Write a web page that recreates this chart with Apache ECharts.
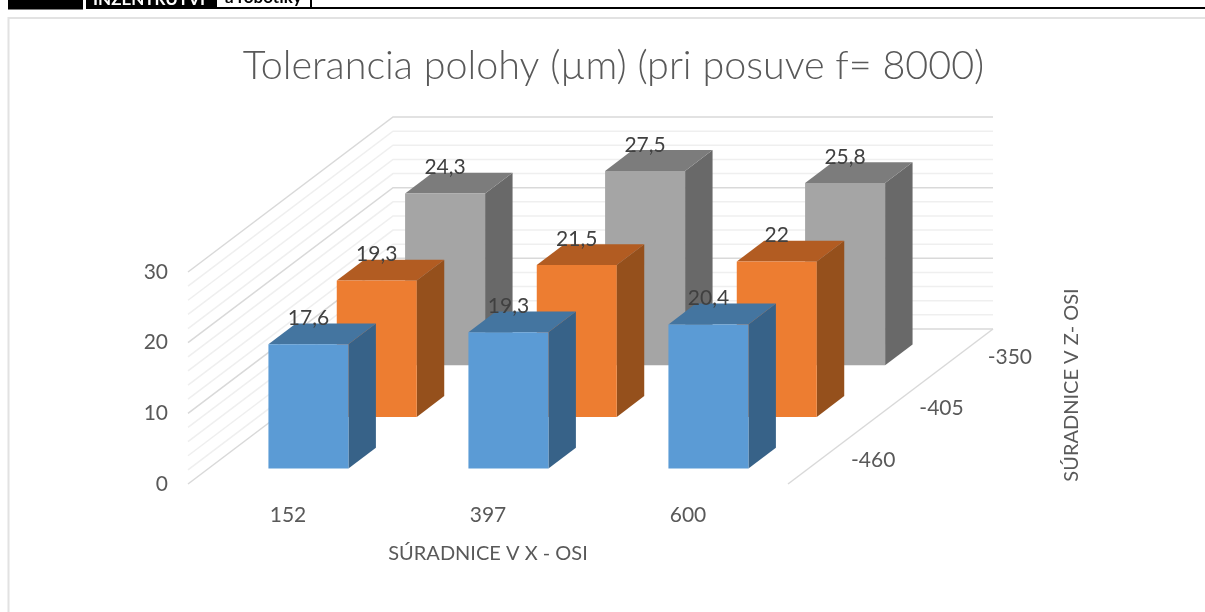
<!DOCTYPE html>
<html><head><meta charset="utf-8">
<style>html,body{margin:0;padding:0;background:#fff}#c{width:1205px;height:612px}</style>
<script src="https://cdn.jsdelivr.net/npm/echarts@6/dist/echarts.min.js"></script>
</head><body><div id="c"></div>
<script>
const titleText = 'Tolerancia polohy (µm) (pri posuve f= 8000)';
const xCategories = ['152', '397', '600'];
const zCategories = ['-460', '-405', '-350'];
const values460 = [17.6, 19.3, 20.4];
const values405 = [19.3, 21.5, 22];
const values350 = [24.3, 27.5, 25.8];
const labels460 = ['17,6', '19,3', '20,4'];
const labels405 = ['19,3', '21,5', '22'];
const labels350 = ['24,3', '27,5', '25,8'];
const gridValues = [0,2,4,6,8,10,12,14,16,18,20,22,24,26,28,30];
const xAxisTitle = 'SÚRADNICE V X - OSI';
const zAxisTitle = 'SÚRADNICE V Z- OSI';

const FONT = 'Lato, Carlito, "Open Sans", sans-serif';
const DEPTH_X = 205, DEPTH_Y = -155;     // floor depth in screen pixels
const ROWS = zCategories.length;
const BAR_W = 0.4;                       // share of a category slot
const BAR_D = 0.134;                     // share of the floor depth

function floorPoint(px, py, depthFrac) { return [px + DEPTH_X * depthFrac, py + DEPTH_Y * depthFrac]; }
function frontOf(row) { return (row + 0.5) / ROWS - BAR_D / 2; }

function barSeries(name, values, row, palette) {
  return {
    type: 'custom', name, coordinateSystem: 'cartesian2d', z: 3 + (ROWS - row),
    clip: false, silent: true,
    data: values.map((v, i) => [i, v]),
    encode: { x: 0, y: 1 },
    renderItem(params, api) {
      const base = api.coord([api.value(0), 0]);
      const top = api.coord([api.value(0), api.value(1)]);
      const w = api.size([1, 0])[0] * BAR_W;
      const [bx, by] = floorPoint(base[0], base[1], frontOf(row));
      const ty = by + (top[1] - base[1]);
      const x0 = bx - w / 2, x1 = bx + w / 2;
      const dx = DEPTH_X * BAR_D, dy = DEPTH_Y * BAR_D;
      return { type: 'group', children: [
        { type: 'polygon', shape: { points: [[x1, by], [x1 + dx, by + dy], [x1 + dx, ty + dy], [x1, ty]] }, style: { fill: palette[1] } },
        { type: 'polygon', shape: { points: [[x0, ty], [x1, ty], [x1 + dx, ty + dy], [x0 + dx, ty + dy]] }, style: { fill: palette[2] } },
        { type: 'polygon', shape: { points: [[x0, by], [x1, by], [x1, ty], [x0, ty]] }, style: { fill: palette[0] } }
      ]};
    }
  };
}

function labelSeries(values, texts, row) {
  return {
    type: 'custom', coordinateSystem: 'cartesian2d', z: 20, clip: false, silent: true,
    data: values.map((v, i) => [i, v]),
    encode: { x: 0, y: 1 },
    renderItem(params, api) {
      const base = api.coord([api.value(0), 0]);
      const top = api.coord([api.value(0), api.value(1)]);
      const [bx, by] = floorPoint(base[0], base[1], frontOf(row));
      return { type: 'text', x: bx, y: by + (top[1] - base[1]) + DEPTH_Y * BAR_D - 5,
        style: { text: texts[params.dataIndex], fill: '#404040', font: '21px ' + FONT, align: 'center', verticalAlign: 'middle' } };
    }
  };
}

const wallSeries = {
  type: 'custom', coordinateSystem: 'cartesian2d', z: 1, clip: false, silent: true,
  data: gridValues.map(v => [0, v]),
  encode: { y: 1 },
  renderItem(params, api) {
    const v = api.value(1);
    const c = api.coord([0, v]);
    const slot = api.size([1, 0])[0];
    const left = c[0] - slot / 2;
    const major = v % 10 === 0;
    const wallX = left + DEPTH_X, wallY = c[1] + DEPTH_Y;
    const right = left + slot * xCategories.length + DEPTH_X;
    return { type: 'polyline', shape: { points: [[left, c[1]], [wallX, wallY], [right, wallY]] },
      style: { stroke: major ? '#D9D9D9' : '#EFEFEF', lineWidth: 1.5, fill: null } };
  }
};

const floorEdgeSeries = {
  type: 'custom', coordinateSystem: 'cartesian2d', z: 1, clip: false, silent: true,
  data: [[xCategories.length - 1, 0]],
  encode: { x: 0, y: 1 },
  renderItem(params, api) {
    const c = api.coord([api.value(0), 0]);
    const x = c[0] + api.size([1, 0])[0] / 2;
    return { type: 'line', shape: { x1: x, y1: c[1], x2: x + DEPTH_X, y2: c[1] + DEPTH_Y },
      style: { stroke: '#D9D9D9', lineWidth: 1.5 } };
  }
};

const zLabelSeries = {
  type: 'custom', coordinateSystem: 'cartesian2d', z: 2, clip: false, silent: true,
  data: zCategories.map((t, i) => [xCategories.length - 1, 0, i]),
  encode: { x: 0, y: 1 },
  renderItem(params, api) {
    const c = api.coord([api.value(0), 0]);
    const x = c[0] + api.size([1, 0])[0] / 2;
    const p = floorPoint(x, c[1], (api.value(2) + 0.5) / ROWS);
    return { type: 'text', x: p[0] + 51, y: p[1] + 2,
      style: { text: zCategories[params.dataIndex], fill: '#595959', font: '21px ' + FONT, align: 'center', verticalAlign: 'middle' } };
  }
};

const chart = echarts.init(document.getElementById('c'), null, { renderer: 'canvas' });
chart.setOption({
  animation: false,
  backgroundColor: '#fff',
  title: { text: titleText, left: 608.5, top: 41, textAlign: 'center',
    textStyle: { color: '#595959', fontFamily: FONT, fontSize: 39.5, fontWeight: 300 } },
  grid: { left: 188, top: 272, width: 600, height: 212, containLabel: false },
  xAxis: { type: 'category', data: xCategories,
    axisLine: { show: false }, axisTick: { show: false }, splitLine: { show: false },
    axisLabel: { color: '#595959', fontFamily: FONT, fontSize: 21, margin: 21 },
    name: xAxisTitle, nameLocation: 'middle', nameGap: 60,
    nameTextStyle: { color: '#595959', fontFamily: FONT, fontSize: 20 } },
  yAxis: { type: 'value', min: 0, max: 30, interval: 10,
    axisLine: { show: false }, axisTick: { show: false }, splitLine: { show: false },
    axisLabel: { color: '#595959', fontFamily: FONT, fontSize: 21, margin: 20, verticalAlign: 'middle', lineHeight: 26, padding: [0,0,5,0] } },
  graphic: [
    { type: 'rect', shape: { x: 8, y: 0, width: 75, height: 9.5 }, style: { fill: '#000' } },
    { type: 'rect', shape: { x: 86, y: 0, width: 1119, height: 9 }, style: { fill: '#000' } },
    { type: 'rect', shape: { x: 217, y: 0, width: 93, height: 7 }, style: { fill: '#fff' } },
    { type: 'rect', shape: { x: 312, y: 0, width: 893, height: 7 }, style: { fill: '#fff' } },
    { type: 'text', x: 93, y: 0, style: { text: 'INZENTRUTVI', fill: '#fff', font: 'bold 17px ' + FONT, verticalAlign: 'middle' } },
    { type: 'text', x: 225, y: -2, style: { text: 'a robotiky', fill: '#000', font: 'bold 17px ' + FONT, verticalAlign: 'middle' } },
    { type: 'polyline', shape: { points: [[8.5, 612], [8.5, 18], [1205, 18]] }, style: { stroke: '#E2E2E2', lineWidth: 2, fill: null } },
    { type: 'text', x: 1072, y: 385, rotation: Math.PI / 2, style: { text: zAxisTitle, fill: '#595959', font: '20px ' + FONT, align: 'center', verticalAlign: 'middle' } }
  ],
  series: [
    wallSeries, floorEdgeSeries, zLabelSeries,
    barSeries('-350', values350, 2, ['#A5A5A5', '#696969', '#7C7C7C']),
    barSeries('-405', values405, 1, ['#ED7D31', '#95501C', '#B25C22']),
    barSeries('-460', values460, 0, ['#5B9BD5', '#376288', '#4475A0']),
    labelSeries(values350, labels350, 2),
    labelSeries(values405, labels405, 1),
    labelSeries(values460, labels460, 0)
  ]
});
</script></body></html>
